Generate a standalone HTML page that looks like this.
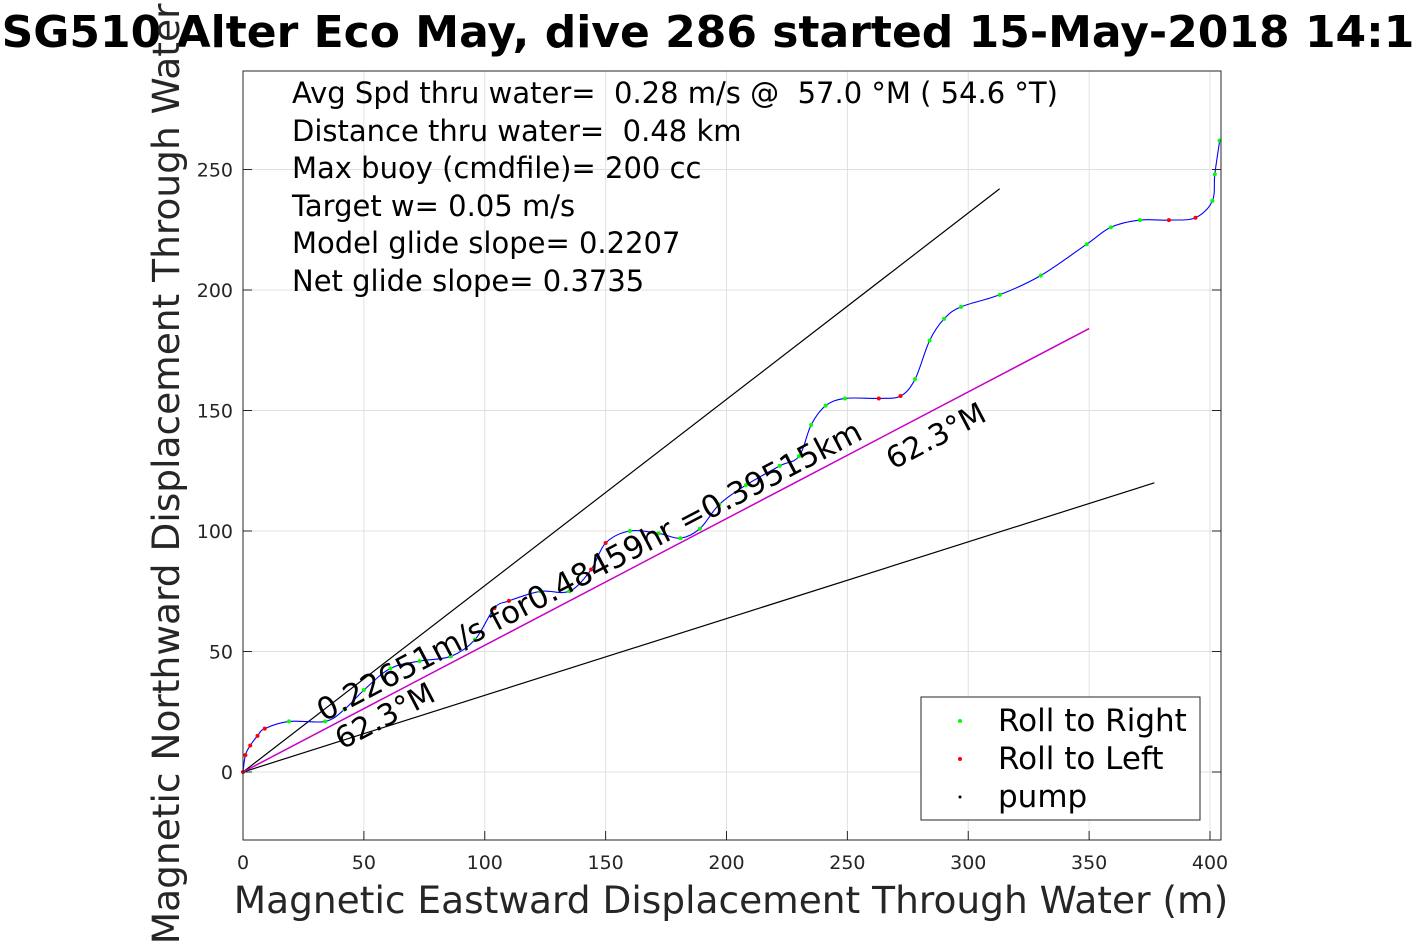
<!DOCTYPE html>
<html><head><meta charset="utf-8"><style>
body{margin:0;background:#fff;width:1417px;height:945px;overflow:hidden}
svg{display:block;font-family:"DejaVu Sans","Liberation Sans",sans-serif}
text{white-space:pre}
</style></head><body>
<svg id="chart" width="1417" height="945">
<text x="708" y="47" text-anchor="middle" font-size="44" font-weight="bold">SG510 Alter Eco May, dive 286 started 15-May-2018 14:1</text>
<g id="grid"></g>
<g id="marks"></g>
<rect x="243" y="71" width="978" height="769" fill="none" stroke="#262626" stroke-width="1"/>
<g id="ticks" font-size="19" fill="#262626"></g>
<g font-size="29" fill="#000">
<text x="292" y="103" xml:space="preserve">Avg Spd thru water=  0.28 m/s @  57.0 °M ( 54.6 °T)</text>
<text x="292" y="141" xml:space="preserve">Distance thru water=  0.48 km</text>
<text x="292" y="178">Max buoy (cmdfile)= 200 cc</text>
<text x="292" y="216">Target w= 0.05 m/s</text>
<text x="292" y="253">Model glide slope= 0.2207</text>
<text x="292" y="291">Net glide slope= 0.3735</text>
</g>
<text x="0" y="0" font-size="31" transform="translate(324,722) rotate(-27.7)">0.22651m/s for0.48459hr =0.39515km</text>
<text x="0" y="0" font-size="30" transform="translate(342,750) rotate(-27.7)">62.3°M</text>
<text x="0" y="0" font-size="30" transform="translate(893,470) rotate(-27.7)">62.3°M</text>
<text x="731" y="913" text-anchor="middle" font-size="37.5" fill="#262626">Magnetic Eastward Displacement Through Water (m)</text>
<text x="0" y="0" text-anchor="middle" font-size="37.5" fill="#262626" transform="translate(179,435) rotate(-90)">Magnetic Northward Displacement Through Water (m)</text>
<g>
<rect x="921" y="697" width="279" height="123" fill="#fff" stroke="#262626"/>
<circle cx="960" cy="721" r="2" fill="#0f0"/><text x="998" y="731" font-size="31">Roll to Right</text>
<circle cx="960" cy="759" r="2" fill="#f00"/><text x="998" y="769" font-size="31">Roll to Left</text>
<circle cx="960" cy="797" r="1.5" fill="#000"/><text x="998" y="807" font-size="31">pump</text>
</g>
</svg>
<script>
const xTicks=[0,50,100,150,200,250,300,350,400];
const yTicks=[0,50,100,150,200,250];
const trackX=[0,1,3,6,9,19,34,42,50,61,73,86,96,104,110,123,135,144,150,160,172,181,189,197,208,222,230,235,241,249,263,272,278,284,290,297,313,330,349,359,371,383,394,401,402,404];
const trackY=[0,7,11,15,18,21,21,26,34,43,46,48,55,68,71,75,75,84,95,100,99,97,101,111,119,127,131,144,152,155,155,156,163,179,188,193,198,206,219,226,229,229,230,237,248,262];
const trackRoll=["r","r","r","r","r","g","g","g","g","g","g","g","g","r","r","g","g","r","r","g","g","g","g","g","g","g","g","g","g","g","r","r","g","g","g","g","g","g","g","g","g","r","r","g","g","g"];
const lineUpper=[313,242];
const lineLower=[377,120];
const lineHeading=[350,184];
const X=v=>243+v*2.4175, Y=v=>772-v*2.41;
const NS="http://www.w3.org/2000/svg";
function mk(tag,attrs,parent){const e=document.createElementNS(NS,tag);for(const k in attrs)e.setAttribute(k,attrs[k]);parent.appendChild(e);return e;}
const grid=document.getElementById('grid'),ticks=document.getElementById('ticks'),marks=document.getElementById('marks');
xTicks.forEach(t=>{
 const l=mk('line',{x1:X(t),x2:X(t),y1:71,y2:840,stroke:'#e0e0e0'},grid);
 
 
 mk('line',{x1:X(t),x2:X(t),y1:840,y2:831,stroke:'#262626'},ticks);
 const tx=mk('text',{x:X(t),y:869,'text-anchor':'middle'},ticks);tx.textContent=t;
 
 
});
yTicks.forEach(t=>{
 const l=mk('line',{x1:243,x2:1221,y1:Y(t),y2:Y(t),stroke:'#e0e0e0'},grid);
 
 
 mk('line',{x1:243,x2:252,y1:Y(t),y2:Y(t),stroke:'#262626'},ticks);
 mk('line',{x1:1212,x2:1221,y1:Y(t),y2:Y(t),stroke:'#262626'},ticks);
 const tx=mk('text',{x:233,y:Y(t)+7,'text-anchor':'end'},ticks);tx.textContent=t;
 
 
});
let l1=mk('line',{x1:X(0),y1:Y(0),x2:X(lineUpper[0]),y2:Y(lineUpper[1]),stroke:'#000','stroke-width':1.2},marks);


let l2=mk('line',{x1:X(0),y1:Y(0),x2:X(lineLower[0]),y2:Y(lineLower[1]),stroke:'#000','stroke-width':1.2},marks);


let l3=mk('line',{x1:X(0),y1:Y(0),x2:X(lineHeading[0]),y2:Y(lineHeading[1]),stroke:'#c800c8','stroke-width':1.5},marks);


const P=trackX.map((v,i)=>[X(v),Y(trackY[i])]);
let d='M'+P[0][0].toFixed(1)+','+P[0][1].toFixed(1);
for(let i=0;i<P.length-1;i++){
 const p0=P[Math.max(0,i-1)],p1=P[i],p2=P[i+1],p3=P[Math.min(P.length-1,i+2)];
 const c1=[p1[0]+(p2[0]-p0[0])/6,p1[1]+(p2[1]-p0[1])/6];
 const c2=[p2[0]-(p3[0]-p1[0])/6,p2[1]-(p3[1]-p1[1])/6];
 d+='C'+c1[0].toFixed(1)+','+c1[1].toFixed(1)+' '+c2[0].toFixed(1)+','+c2[1].toFixed(1)+' '+p2[0].toFixed(1)+','+p2[1].toFixed(1);
}
const p=mk('path',{d:d,fill:'none',stroke:'#00f','stroke-width':1.1,'stroke-linejoin':'round'},marks);


trackX.forEach((v,i)=>{
 const c=mk('circle',{cx:X(v),cy:Y(trackY[i]),r:2,fill:trackRoll[i]==='g'?'#0f0':'#f00'},marks);
 
 
});
</script>
</body></html>
